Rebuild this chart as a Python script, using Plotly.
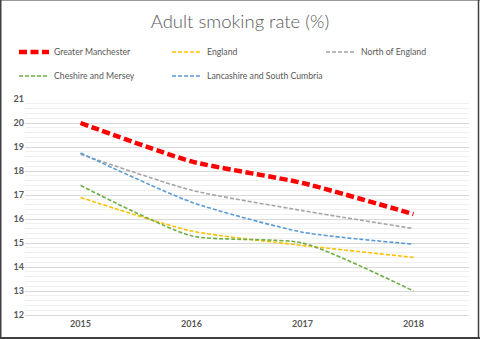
import plotly.graph_objects as go

years = ["2015", "2016", "2017", "2018"]
greater_manchester = [20.0, 18.4, 17.5, 16.2]
england = [16.9, 15.5, 14.9, 14.4]
north_of_england = [18.7, 17.2, 16.35, 15.6]
cheshire_mersey = [17.4, 15.3, 15.0, 13.0]
lancashire_cumbria = [18.75, 16.7, 15.45, 14.95]

series = [
    ("Greater Manchester", greater_manchester, "#FF0000", 4.5, "8px,3.5px"),
    ("England", england, "#FFC000", 1.6, "4px,2px"),
    ("North of England", north_of_england, "#A5A5A5", 1.6, "4px,2px"),
    ("Cheshire and Mersey", cheshire_mersey, "#70AD47", 1.6, "4px,2px"),
    ("Lancashire and South Cumbria", lancashire_cumbria, "#5B9BD5", 1.6, "4px,2px"),
]

W, H = 480, 339
L, R, T, B = 25, 11, 99, 24
pw, ph = W - L - R, H - T - B

def px_x(x):
    return (x - L) / pw

def px_y(y):
    return (H - B - y) / ph

# legend slot (left px, center-y px) per series
legend_slots = [(14, 52), (167, 52), (321, 52), (14, 76), (167, 76)]
legend_names = ["legend", "legend2", "legend3", "legend4", "legend5"]

fig = go.Figure()
for (name, vals, color, w, dash), leg in zip(series, legend_names):
    fig.add_trace(go.Scatter(
        x=years, y=vals, name=name, mode="lines", legend=leg,
        line=dict(color=color, width=w, dash=dash, shape="spline", smoothing=0.6),
    ))

legend_common = dict(orientation="h", xanchor="left", yanchor="middle", itemwidth=30,
                     font=dict(family="Lato", size=8.7, color="#595959"),
                     bgcolor="rgba(0,0,0,0)", borderwidth=0)
legends = {leg: dict(x=px_x(sx), y=px_y(sy), **legend_common)
           for leg, (sx, sy) in zip(legend_names, legend_slots)}

fig.update_layout(
    width=W, height=H,
    margin=dict(l=L, r=R, t=T, b=B, autoexpand=False),
    paper_bgcolor="white", plot_bgcolor="white",
    title=dict(text="Adult smoking rate (%)", x=0.5, xanchor="center", y=1 - 22 / H, yanchor="middle",
               font=dict(family="Lato", size=18.5, color="#595959", weight=300)),
    font=dict(family="Lato", color="#595959"),
    showlegend=True,
    xaxis=dict(type="category", range=[-0.5, 3.5], showgrid=False, zeroline=False,
               showline=True, linecolor="#D9D9D9", ticks="",
               tickfont=dict(size=9, color="#595959", family="Lato", weight="bold"), fixedrange=True),
    yaxis=dict(range=[12, 21], dtick=1, showgrid=True, gridcolor="#D9D9D9", gridwidth=1,
               zeroline=False, ticks="", tickfont=dict(size=9, color="#595959", family="Lato", weight="bold"),
               minor=dict(dtick=0.2, showgrid=True, gridcolor="#F0F0F0", gridwidth=1)),
    **legends,
)
# outer frame: thin light top edge, darker left/right/bottom edges
frame = [
    (0, 0.5, W, 0.5, "#9A9A9A", 1),
    (0.75, 0, 0.75, H, "#404040", 1.5),
    (W - 1.5, 0, W - 1.5, H, "#404040", 1.5),
    (0, H - 1, W, H - 1, "#404040", 2),
]
for x0, y0, x1, y1, c, lw in frame:
    fig.add_shape(type="line", xref="paper", yref="paper",
                  x0=px_x(x0), y0=px_y(y0), x1=px_x(x1), y1=px_y(y1),
                  line=dict(color=c, width=lw))
fig.write_html("out.html")
